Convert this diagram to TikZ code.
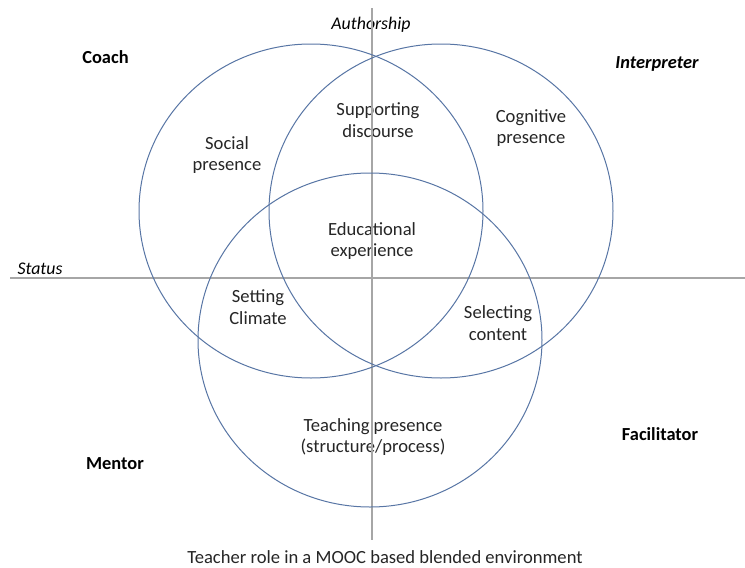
\documentclass[tikz,border=0pt]{standalone}
\usepackage{fontspec}
\setmainfont{Carlito}
\begin{document}
\begin{tikzpicture}[x=1pt,y=-1pt,
  lbl/.style={align=center,font=\fontsize{18.6}{21.5}\selectfont,inner sep=0pt,text=black!85},
  role/.style={font=\fontsize{18.4}{20}\selectfont\bfseries,inner sep=0pt},
  axislbl/.style={font=\fontsize{17.8}{20}\selectfont\itshape,inner sep=0pt},
  axis/.style={draw=black!35,line width=2.6pt},
  ring/.style={draw={rgb,255:red,88;green,118;blue,165},line width=1pt}]
\useasboundingbox[fill=white] (0,0) rectangle (745,568);
% texts
\node[axislbl] (auth) at (371,25) {Authorship};
\node[axislbl] (status) at (40,269) {Status};
\node[role] (coach) at (105.5,57) {Coach};
\node[role,font=\fontsize{18.4}{20}\selectfont\bfseries\itshape] (interp) at (657,64) {Interpreter};
\node[role] (mentor) at (115,464) {Mentor};
\node[role] (facil) at (660,434) {Facilitator};
\node[lbl] (social) at (227,155) {Social\\presence};
\node[lbl] (support) at (378,120) {Supporting\\discourse};
\node[lbl] (cogn) at (531,128) {Cognitive\\presence};
\node[lbl] (edu) at (372,241) {Educational\\experience};
\node[lbl] (climate) at (258,307) {Setting\\Climate};
\node[lbl] (content) at (498,323) {Selecting\\content};
\node[lbl] (teach) at (373,437) {Teaching presence\\(structure/process)};
\node[lbl] (caption) at (385,557) {Teacher role in a MOOC based blended environment};
% axes
\coordinate (vtop) at (372,8);
\coordinate (vbot) at (372,540);
\coordinate (hl) at (10,278);
\coordinate (hr) at (745,278);
\draw[axis] (vtop) -- (vbot);
\draw[axis] (hl) -- (hr);
% circles
\coordinate (cL) at (311,211);
\coordinate (cR) at (441,211);
\coordinate (cB) at (370,340);
\draw[ring] (cL) ellipse [x radius=172, y radius=167];
\draw[ring] (cR) ellipse [x radius=172, y radius=167];
\draw[ring] (cB) ellipse [x radius=172, y radius=167];
\end{tikzpicture}
\end{document}
